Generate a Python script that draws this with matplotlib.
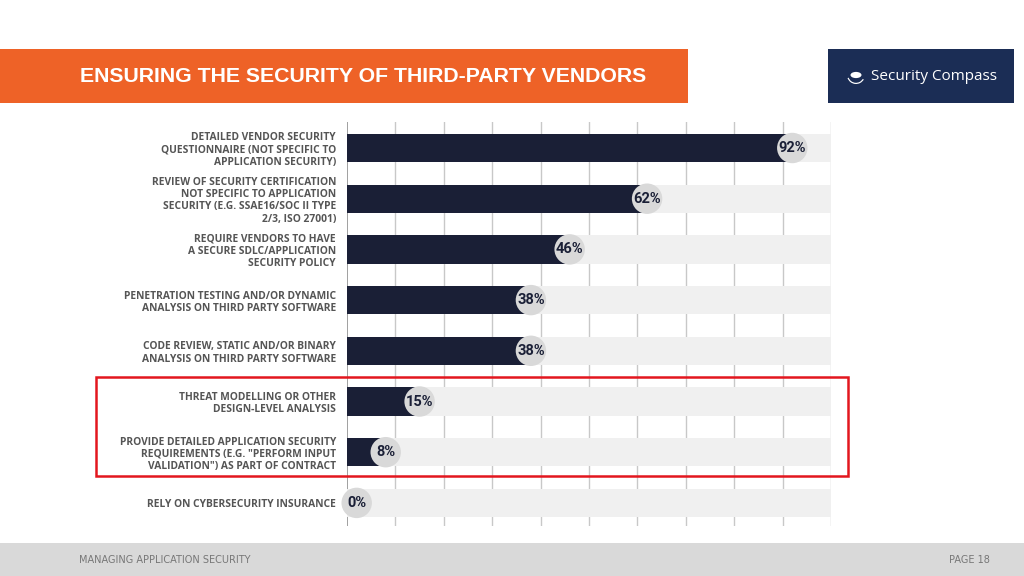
import matplotlib
matplotlib.use("Agg")
import matplotlib.pyplot as plt
from matplotlib import font_manager
from matplotlib.patches import Rectangle, Circle, Wedge

# data
labels = [
    "DETAILED VENDOR SECURITY\nQUESTIONNAIRE (NOT SPECIFIC TO\nAPPLICATION SECURITY)",
    "REVIEW OF SECURITY CERTIFICATION\nNOT SPECIFIC TO APPLICATION\nSECURITY (E.G. SSAE16/SOC II TYPE\n2/3, ISO 27001)",
    "REQUIRE VENDORS TO HAVE\nA SECURE SDLC/APPLICATION\nSECURITY POLICY",
    "PENETRATION TESTING AND/OR DYNAMIC\nANALYSIS ON THIRD PARTY SOFTWARE",
    "CODE REVIEW, STATIC AND/OR BINARY\nANALYSIS ON THIRD PARTY SOFTWARE",
    "THREAT MODELLING OR OTHER\nDESIGN-LEVEL ANALYSIS",
    "PROVIDE DETAILED APPLICATION SECURITY\nREQUIREMENTS (E.G. \"PERFORM INPUT\nVALIDATION\") AS PART OF CONTRACT",
    "RELY ON CYBERSECURITY INSURANCE",
]
values = [92, 62, 46, 38, 38, 15, 8, 0]

title = "ENSURING THE SECURITY OF THIRD-PARTY VENDORS"
footer_left = "MANAGING APPLICATION SECURITY"
footer_right = "PAGE 18"


def pick_font(name, weight):
    # prefer the normal-width face closest to the wanted weight
    cands = [f for f in font_manager.fontManager.ttflist
             if f.name == name and f.style == 'normal' and str(f.stretch) in ('normal', '500', '400')]
    if not cands:
        return None
    wmap = {'normal': 400, 'regular': 400, 'bold': 700, 'semibold': 600, 'medium': 500, 'light': 300}
    def w(f):
        return f.weight if isinstance(f.weight, int) else wmap.get(f.weight, 400)
    best = min(cands, key=lambda f: abs(w(f) - weight))
    return font_manager.FontProperties(fname=best.fname)


label_fp = pick_font('Open Sans', 700) or font_manager.FontProperties(family='DejaVu Sans', weight='bold')

W, H = 1024, 576
fig = plt.figure(figsize=(W / 100, H / 100), dpi=100)
fig.patch.set_facecolor('white')


def px(x, y, w, h):
    # pixel box (top-left origin) -> figure fraction
    return (x / W, 1 - (y + h) / H, w / W, h / H)


# header band and logo box
x0, y0, w0, h0 = px(0, 49, 688, 54)
fig.add_artist(Rectangle((x0, y0), w0, h0, transform=fig.transFigure, facecolor='#EE6227', edgecolor='none'))
fig.text(80 / W, 1 - 76 / H, title, color='white', fontsize=15.3, fontweight='bold',
         family='Liberation Sans', va='center', ha='left')

x0, y0, w0, h0 = px(828, 49, 186, 54)
fig.add_artist(Rectangle((x0, y0), w0, h0, transform=fig.transFigure, facecolor='#1B2D55', edgecolor='none'))
# small globe mark
gx, gy = 856, 75
fig.add_artist(Circle((gx / W, 1 - gy / H), 5.5 / W, transform=fig.transFigure,
                      facecolor='white', edgecolor='none'))
fig.add_artist(Wedge((gx, H - gy), 9, 200, 330, width=1.2, transform=None,
                     facecolor='white', edgecolor='none'))
fig.text(871 / W, 1 - 76 / H, "Security Compass", color='white', fontsize=11,
         family='Open Sans', va='center', ha='left')

# footer
x0, y0, w0, h0 = px(0, 543, 1024, 33)
fig.add_artist(Rectangle((x0, y0), w0, h0, transform=fig.transFigure, facecolor='#D9D9D9', edgecolor='none'))
fig.text(79 / W, 1 - 560 / H, footer_left, color='#777777', fontsize=7, family='Liberation Sans Narrow',
         va='center', ha='left')
fig.text(990 / W, 1 - 560 / H, footer_right, color='#777777', fontsize=7, family='Liberation Sans Narrow',
         va='center', ha='right')

# chart axes: 0..100 spans px 347..831, gridlines from y 122 to 526
ax = fig.add_axes([347 / W, 1 - 526 / H, 484 / W, 404 / H])
step = 50.7
ax.set_xlim(0, 100)
ax.set_ylim((526 - 148) / step, (122 - 148) / step)
ax.set_facecolor('none')
for s in ax.spines.values():
    s.set_visible(False)

for g in range(0, 101, 10):
    ax.axvline(g, color='#999999' if g == 0 else '#C8C8C8', lw=1.3 if g == 0 else 1, zorder=0)

ys = list(range(len(values)))
ax.barh(ys, [100] * len(values), height=0.56, color='#F0F0F0', zorder=1)
ax.barh(ys, values, height=0.56, color='#1A1F36', zorder=2)
# badges sit at the bar end, kept clear of the axis line for tiny values
badge_x = [max(v, 2) for v in values]
ax.scatter(badge_x, ys, s=480, color='#D9D9D9', edgecolors='none', zorder=3, clip_on=False)
for bx, v, y in zip(badge_x, values, ys):
    ax.text(bx, y, f"{v}%", ha='center', va='center', fontsize=10.5, fontweight='bold',
            color='#1A1F36', family='Roboto', zorder=4)

ax.set_xticks([])
ax.set_yticks(ys)
ax.set_yticklabels(labels, color='#555555', fontproperties=label_fp, linespacing=1.15)
for t in ax.get_yticklabels():
    t.set_fontsize(7.4)
ax.tick_params(axis='y', length=0, pad=8)

# highlight box
x0, y0, w0, h0 = px(96, 377, 752, 99)
fig.add_artist(Rectangle((x0, y0), w0, h0, transform=fig.transFigure, facecolor='none',
                         edgecolor='#E3161E', lw=1.8))

fig.savefig('out.png', dpi=100)
